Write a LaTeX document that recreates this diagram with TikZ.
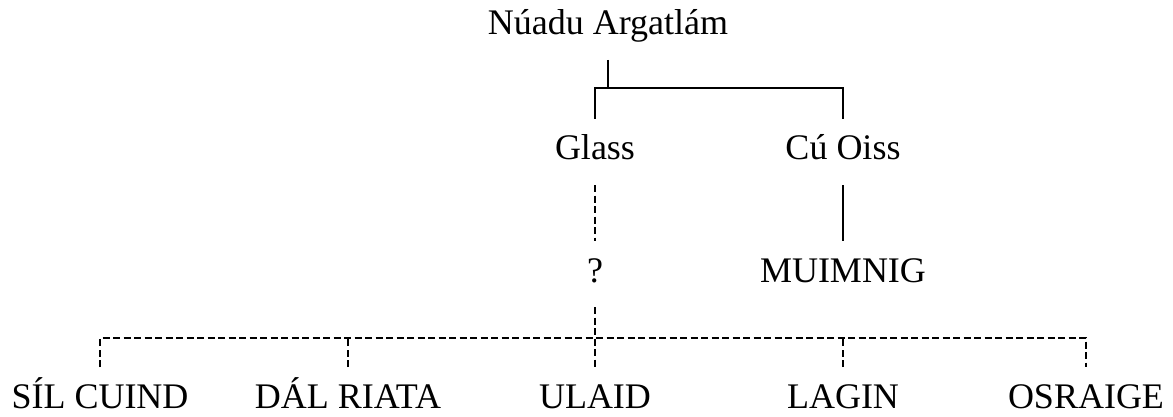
\documentclass[tikz,border=0pt]{standalone}
\usepackage{fontspec}
\setmainfont{Liberation Serif}
\usetikzlibrary{calc}
\begin{document}
\begin{tikzpicture}[x=1pt,y=-1pt,
  person/.style={inner sep=0pt, outer xsep=0pt, outer ysep=18pt, anchor=base,
    text height=23pt, text depth=7pt, font=\fontsize{36}{40}\selectfont},
  link/.style={line width=2.3pt},
  unsure/.style={line width=2.3pt, dash pattern=on 7pt off 3.5pt}]
\useasboundingbox (0,0) rectangle (1173,417);

% generations
\node[person] (nuadu) at (608,35) {Núadu Argatlám};
\node[person] (glass) at (595,160) {Glass};
\node[person] (cuoiss) at (843,160) {Cú Oiss};
\node[person] (q) at (595,282) {?};
\node[person] (muimnig) at (843,282) {MUIMNIG};
\node[person] (sil) at (100,408) {SÍL CUIND};
\node[person] (dal) at (348,408) {DÁL RIATA};
\node[person] (ulaid) at (595,408) {ULAID};
\node[person] (lagin) at (843,408) {LAGIN};
\node[person] (osraige) at (1086,408) {OSRAIGE};

\coordinate (topbar) at (0,88);
\coordinate (lowbar) at (0,338);

% descent from Núadu
\draw[link] (nuadu.south) -- (nuadu.south |- topbar);
\draw[link] (glass.north) |- (cuoiss.north |- topbar) -- (cuoiss.north);
\draw[link] (cuoiss.south) -- (muimnig.north);
\draw[unsure] (glass.south) -- (q.north);

% uncertain descent of the peoples
\draw[unsure] (q.south) -- (ulaid.north);
\draw[unsure] (sil.north) |- (osraige.north |- lowbar) -- (osraige.north);
\draw[unsure] (dal.north) -- (dal.north |- lowbar);
\draw[unsure] (lagin.north) -- (lagin.north |- lowbar);
\end{tikzpicture}
\end{document}
